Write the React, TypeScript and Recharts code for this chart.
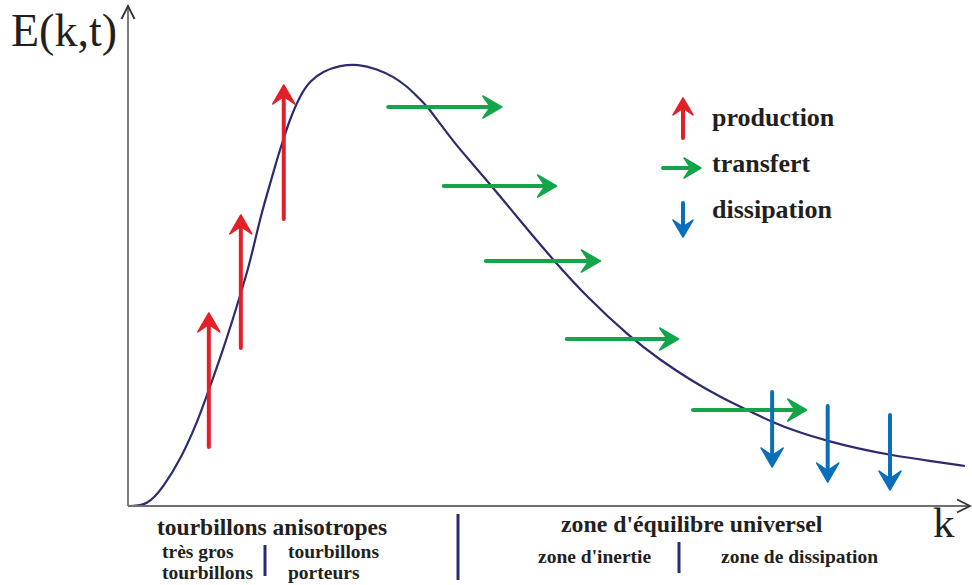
import React from "react";
import { ComposedChart, Line, XAxis, YAxis, ReferenceLine } from "recharts";

// energy spectrum E(k,t), arbitrary units (k: 0..100, E: 0..100)
const curveK = [0, 2.3, 4.2, 6.2, 8.2, 9.6, 11.2, 12.5, 13.4, 14.3, 15.1, 15.9, 16.8, 17.6, 18.5, 19.2, 20.4, 21.6, 23.2, 25.2, 27.3, 29.6, 31.5, 33.1, 34.4, 35.5, 37.1, 38.6, 40.4, 43.4, 46.6, 50.5, 54.5, 59.6, 63.2, 66.8, 70.3, 73.5, 76.5, 79.5, 83.1, 86.9, 90.5, 95.3, 99.4];
const curveE = [0, 0, 3.8, 9.2, 16.6, 23.2, 30.8, 37.6, 42.6, 47.6, 53.2, 58.8, 64.0, 68.8, 73.6, 77.2, 82.0, 85.0, 87.0, 88.1, 88.4, 87.4, 85.9, 84.0, 81.8, 80.0, 76.4, 73.0, 69.4, 63.6, 57.0, 49.2, 41.8, 33.8, 29.2, 25.2, 21.8, 19.2, 16.8, 14.8, 13.0, 11.4, 10.2, 9.0, 8.0];

// production arrows (vertical, upward)
const productionK = [9.6, 13.4, 18.5];
const productionFrom = [11.8, 31.6, 57.4];
const productionTo = [38.6, 58.2, 84.2];

// transfert arrows (horizontal, to the right)
const transferE = [79.8, 64.0, 49.0, 33.4, 19.2];
const transferFrom = [30.9, 37.5, 42.5, 52.1, 67.1];
const transferTo = [44.4, 50.9, 56.1, 65.4, 80.6];

// dissipation arrows (vertical, downward)
const dissipationK = [76.5, 83.1, 90.5];
const dissipationFrom = [22.8, 20.0, 18.2];
const dissipationTo = [7.8, 4.8, 3.2];

const data = curveK.map((k, i) => ({ k, E: curveE[i] }));

const RED = "#e3202a";
const GREEN = "#14a54a";
const BLUE = "#0a6fba";
const NAVY = "#2c2b6e";
const AXIS = "#707070";
const TEXT = "#231f20";
const SERIF = "'Liberation Serif', 'Times New Roman', serif";

// filled arrow with notched head, drawn from (x1,y1) to (x2,y2)
function arrowPath(x1: number, y1: number, x2: number, y2: number, color: string, w: number, len: number, half: number) {
  const dx = x2 - x1;
  const dy = y2 - y1;
  const d = Math.sqrt(dx * dx + dy * dy) || 1;
  const ux = dx / d;
  const uy = dy / d;
  const px = -uy;
  const py = ux;
  const bx = x2 - ux * len;
  const by = y2 - uy * len;
  const nx = x2 - ux * len * 0.6;
  const ny = y2 - uy * len * 0.6;
  const pts = [
    [x2, y2],
    [bx + px * half, by + py * half],
    [nx, ny],
    [bx - px * half, by - py * half],
  ]
    .map(p => p.join(","))
    .join(" ");
  return (
    <g>
      <line x1={x1} y1={y1} x2={nx} y2={ny} stroke={color} strokeWidth={w} strokeLinecap="round" />
      <polygon points={pts} fill={color} stroke={color} strokeWidth={1.5} strokeLinejoin="round" />
    </g>
  );
}

const arrowShape = (color: string) => (props: any) =>
  arrowPath(props.x1, props.y1, props.x2, props.y2, color, 4, 19, 11);

// thin open-chevron arrow used for the axes
const axisShape = (props: any) => {
  const { x1, y1, x2, y2 } = props;
  const dx = x2 - x1;
  const dy = y2 - y1;
  const d = Math.sqrt(dx * dx + dy * dy) || 1;
  const ux = dx / d;
  const uy = dy / d;
  const len = 13;
  const half = 6.5;
  return (
    <g>
      <line x1={x1} y1={y1} x2={x2} y2={y2} stroke={AXIS} strokeWidth={1.8} />
      <polyline
        points={`${x2 - ux * len - uy * half},${y2 - uy * len + ux * half} ${x2},${y2} ${x2 - ux * len + uy * half},${y2 - uy * len - ux * half}`}
        fill="none"
        stroke="#333"
        strokeWidth={1.8}
      />
    </g>
  );
};

export default function App() {
  const bold = { fontFamily: SERIF, fontWeight: 700, fill: TEXT } as const;
  return (
    <div style={{ position: "absolute", left: 0, top: 0, width: 972, height: 585, background: "#fff" }}>
      <ComposedChart width={972} height={585} data={data} margin={{ top: 6, right: 2, bottom: 79, left: 128 }}>
        <XAxis type="number" dataKey="k" domain={[0, 100]} hide allowDataOverflow />
        <YAxis type="number" domain={[0, 100]} hide allowDataOverflow />
        <Line type="basis" dataKey="E" stroke={NAVY} strokeWidth={2.2} dot={false} isAnimationActive={false} />
        <ReferenceLine segment={[{ x: 0, y: 0 }, { x: 0, y: 100 }]} ifOverflow="visible" shape={axisShape} />
        <ReferenceLine segment={[{ x: 0, y: 0 }, { x: 100, y: 0 }]} ifOverflow="visible" shape={axisShape} />
        {productionK.map((k, i) => (
          <ReferenceLine
            key={`p${i}`}
            segment={[{ x: k, y: productionFrom[i] }, { x: k, y: productionTo[i] }]}
            ifOverflow="visible"
            shape={arrowShape(RED)}
          />
        ))}
        {transferE.map((e, i) => (
          <ReferenceLine
            key={`t${i}`}
            segment={[{ x: transferFrom[i], y: e }, { x: transferTo[i], y: e }]}
            ifOverflow="visible"
            shape={arrowShape(GREEN)}
          />
        ))}
        {dissipationK.map((k, i) => (
          <ReferenceLine
            key={`d${i}`}
            segment={[{ x: k, y: dissipationFrom[i] }, { x: k, y: dissipationTo[i] }]}
            ifOverflow="visible"
            shape={arrowShape(BLUE)}
          />
        ))}
      </ComposedChart>

      <svg width={972} height={585} style={{ position: "absolute", left: 0, top: 0, pointerEvents: "none" }}>
        <text x={11} y={46} fontFamily={SERIF} fontSize={46} fill={TEXT}>E(k,t)</text>
        <text x={933} y={537} fontFamily={SERIF} fontSize={43} fill={TEXT}>k</text>

        {/* legend */}
        {arrowPath(683, 138, 683, 98, RED, 4, 17, 10)}
        {arrowPath(663, 168, 701, 168, GREEN, 4, 17, 10)}
        {arrowPath(683, 203, 683, 237, BLUE, 4, 17, 10)}
        <text x={712} y={126} fontSize={26} {...bold}>production</text>
        <text x={712} y={172} fontSize={26} {...bold}>transfert</text>
        <text x={712} y={218} fontSize={26} {...bold}>dissipation</text>

        {/* scale zones below the k axis */}
        <text x={157} y={535} fontSize={23.5} {...bold}>tourbillons anisotropes</text>
        <text x={162} y={558} fontSize={19.5} {...bold}>très gros</text>
        <text x={162} y={579} fontSize={19.5} {...bold}>tourbillons</text>
        <text x={288} y={558} fontSize={19.5} {...bold}>tourbillons</text>
        <text x={288} y={579} fontSize={19.5} {...bold}>porteurs</text>
        <line x1={265} y1={545} x2={265} y2={576} stroke={NAVY} strokeWidth={3} />
        <line x1={458} y1={514} x2={458} y2={580} stroke={NAVY} strokeWidth={3} />
        <text x={561} y={532} fontSize={23.8} {...bold}>zone d'équilibre universel</text>
        <text x={538} y={563} fontSize={19.5} {...bold}>zone d'inertie</text>
        <line x1={679} y1={542} x2={679} y2={573} stroke={NAVY} strokeWidth={3} />
        <text x={721} y={563} fontSize={19.5} {...bold}>zone de dissipation</text>
      </svg>
    </div>
  );
}
